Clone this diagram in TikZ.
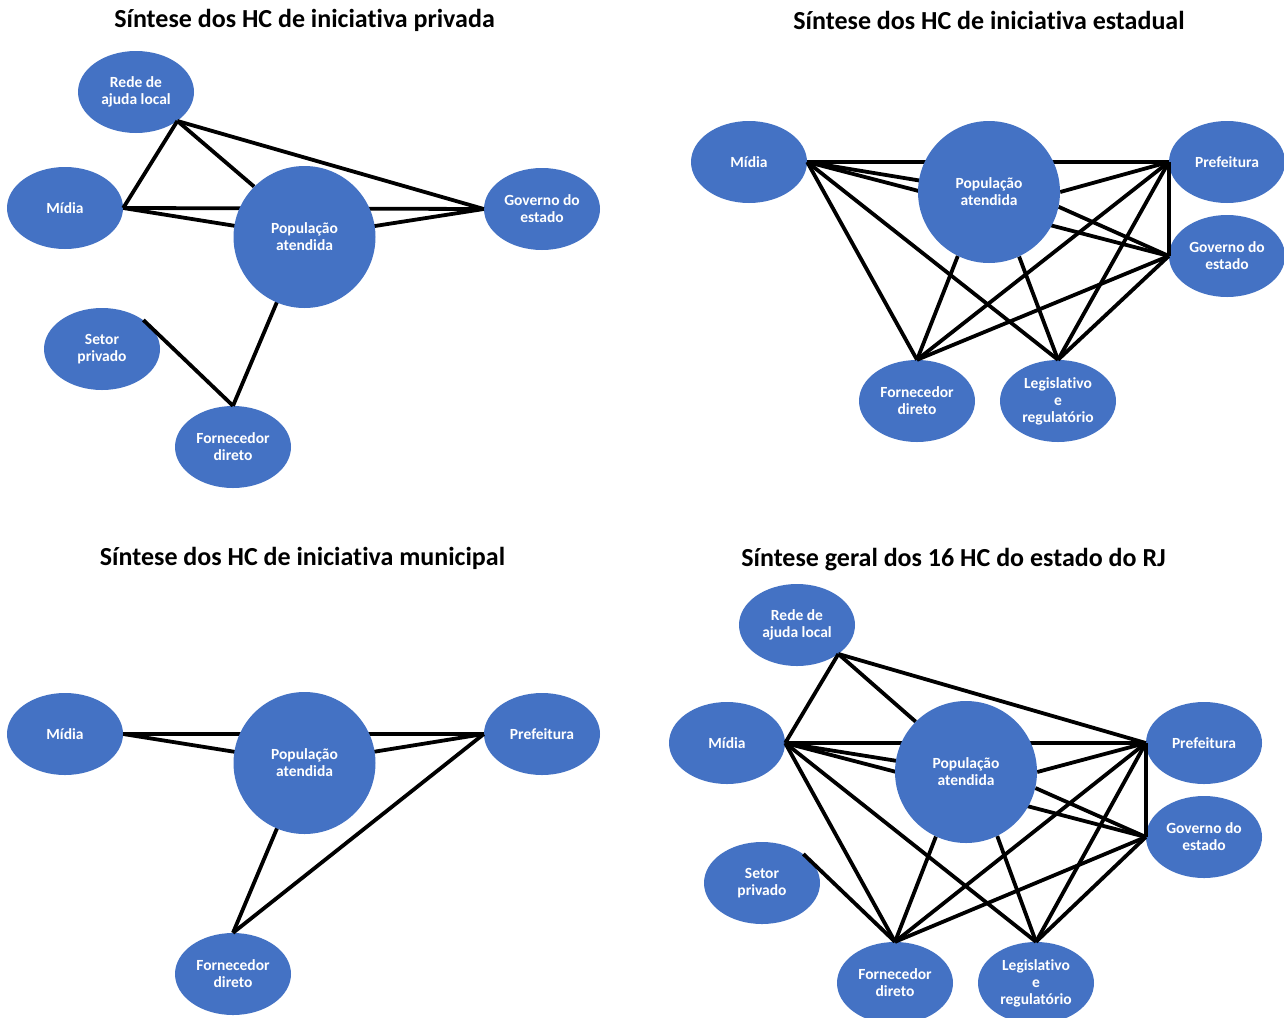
\documentclass[tikz,border=0pt]{standalone}
\usepackage{fontspec}
\setmainfont{Carlito}[Ligatures=NoCommon]
\usetikzlibrary{shapes.geometric}
\definecolor{hcblue}{HTML}{4472C4}
\pgfdeclarelayer{top}
\pgfsetlayers{main,top}
\tikzset{
  hc/.style={ellipse, fill=hcblue, text=white, minimum width=116pt, minimum height=82pt,
    inner sep=0pt, align=center, font=\fontsize{15.5}{17}\selectfont\bfseries},
  popnode/.style={circle, fill=hcblue, text=white, minimum size=142pt, inner sep=0pt,
    align=center, font=\fontsize{15.5}{17}\selectfont\bfseries},
  link/.style={draw=black, line width=3.8pt},
  ttl/.style={font=\fontsize{26}{30}\selectfont\bfseries, inner sep=0pt}
}
\begin{document}
\begin{tikzpicture}[x=1pt, y=-1pt]
\useasboundingbox (0,0) rectangle (1284,1017);
\fill[white] (0,0) rectangle (1284,1017);

% ---------- private initiative ----------
\node[ttl] (ta) at (304.5,20) {Síntese dos HC de iniciativa privada};
\begin{pgfonlayer}{top}
\node[popnode] (apop) at (304.5,237) {População\\atendida};
\end{pgfonlayer}
\node[hc] (arede) at (136,92) {Rede de\\ajuda local};
\node[hc] (amid) at (65,208) {Mídia};
\node[hc] (agov) at (542,209) {Governo do\\estado};
\node[hc] (aset) at (102,349) {Setor\\privado};
\node[hc] (afor) at (233,447) {Fornecedor\\direto};
\draw[link] (arede.-35) -- (amid.east);
\draw[link] (arede.-35) -- (apop.135);
\draw[link] (arede.-35) -- (agov.west);
\draw[link] (amid.east) -- (agov.west);
\draw[link] (amid.east) -- (apop.center);
\draw[link] (agov.west) -- (apop.center);
\draw[link] (apop.center) -- (afor.north);
\draw[link] (aset.35) -- (afor.north);

% ---------- state initiative ----------
\node[ttl] (tb) at (989,20) {Síntese dos HC de iniciativa estadual};
\begin{pgfonlayer}{top}
\node[popnode] (bpop) at (989,192) {População\\atendida};
\end{pgfonlayer}
\node[hc] (bmid) at (749,162) {Mídia};
\node[hc] (bpref) at (1227,162) {Prefeitura};
\node[hc] (bgov) at (1227,256) {Governo do\\estado};
\node[hc] (bfor) at (917,401) {Fornecedor\\direto};
\node[hc] (bleg) at (1058,401) {Legislativo\\e\\regulatório};
\draw[link] (bmid.east) -- (bpref.west);
\draw[link] (bmid.east) -- (bpop.center);
\draw[link] (bmid.east) -- (bgov.west);
\draw[link] (bmid.east) -- (bfor.north);
\draw[link] (bmid.east) -- (bleg.north);
\draw[link] (bpop.east) -- (bpref.west);
\draw[link] (bpop.-12) -- (bgov.west);
\draw[link] (bpop.-116) -- (bfor.north);
\draw[link] (bpop.-65) -- (bleg.north);
\draw[link] (bpref.west) -- (bgov.west);
\draw[link] (bpref.west) -- (bfor.north);
\draw[link] (bpref.west) -- (bleg.north);
\draw[link] (bgov.west) -- (bfor.north);
\draw[link] (bgov.west) -- (bleg.north);

% ---------- municipal initiative ----------
\node[ttl] (tc) at (302.5,558) {Síntese dos HC de iniciativa municipal};
\begin{pgfonlayer}{top}
\node[popnode] (cpop) at (304.5,763) {População\\atendida};
\end{pgfonlayer}
\node[hc] (cmid) at (65,734) {Mídia};
\node[hc] (cpref) at (542,734) {Prefeitura};
\node[hc] (cfor) at (233,974) {Fornecedor\\direto};
\draw[link] (cmid.east) -- (cpref.west);
\draw[link] (cmid.east) -- (cpop.center);
\draw[link] (cpref.west) -- (cpop.center);
\draw[link] (cpop.center) -- (cfor.north);
\draw[link] (cpref.west) -- (cfor.north);

% ---------- all 16 HC of RJ ----------
\node[ttl] (td) at (953.5,560) {Síntese geral dos 16 HC do estado do RJ};
\begin{pgfonlayer}{top}
\node[popnode] (dpop) at (966,772) {População\\atendida};
\end{pgfonlayer}
\node[hc] (drede) at (797,625) {Rede de\\ajuda local};
\node[hc] (dmid) at (727,743) {Mídia};
\node[hc] (dpref) at (1204,743) {Prefeitura};
\node[hc] (dgov) at (1204,837) {Governo do\\estado};
\node[hc] (dset) at (762,883) {Setor\\privado};
\node[hc] (dfor) at (895,983) {Fornecedor\\direto};
\node[hc] (dleg) at (1036,983) {Legislativo\\e\\regulatório};
\draw[link] (drede.-35) -- (dmid.east);
\draw[link] (drede.-35) -- (dpop.135);
\draw[link] (drede.-35) -- (dpref.west);
\draw[link] (dmid.east) -- (dpref.west);
\draw[link] (dmid.east) -- (dpop.center);
\draw[link] (dmid.east) -- (dgov.west);
\draw[link] (dmid.east) -- (dfor.north);
\draw[link] (dmid.east) -- (dleg.north);
\draw[link] (dpop.east) -- (dpref.west);
\draw[link] (dpop.-13) -- (dgov.west);
\draw[link] (dpop.-115) -- (dfor.north);
\draw[link] (dpop.-64) -- (dleg.north);
\draw[link] (dpref.west) -- (dgov.west);
\draw[link] (dpref.west) -- (dfor.north);
\draw[link] (dpref.west) -- (dleg.north);
\draw[link] (dgov.west) -- (dfor.north);
\draw[link] (dgov.west) -- (dleg.north);
\draw[link] (dset.35) -- (dfor.north);
\end{tikzpicture}
\end{document}
